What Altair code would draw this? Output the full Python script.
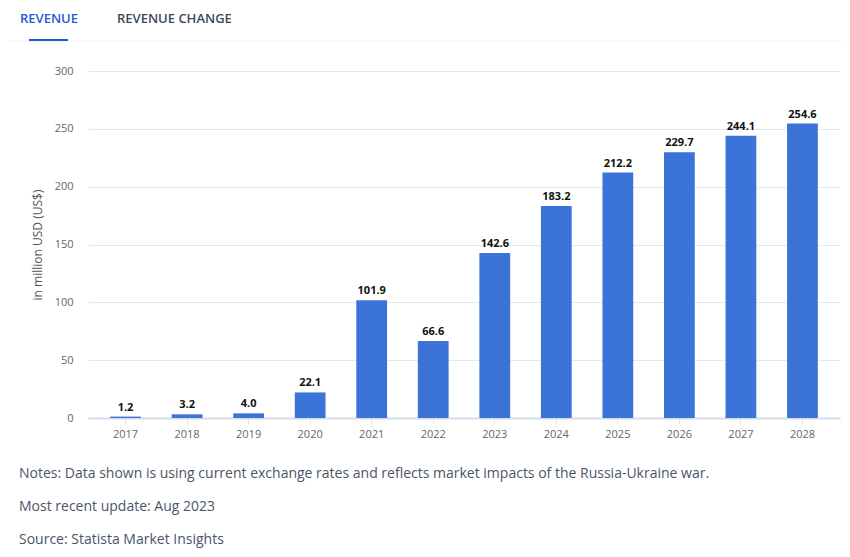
import altair as alt
import pandas as pd

years = ["2017", "2018", "2019", "2020", "2021", "2022", "2023", "2024", "2025", "2026", "2027", "2028"]
revenue = [1.2, 3.2, 4.0, 22.1, 101.9, 66.6, 142.6, 183.2, 212.2, 229.7, 244.1, 254.6]
y_ticks = [0, 50, 100, 150, 200, 250, 300]
tab_labels = ["REVENUE", "REVENUE CHANGE"]
notes = [
    "Notes: Data shown is using current exchange rates and reflects market impacts of the Russia-Ukraine war.",
    "Most recent update: Aug 2023",
    "Source: Statista Market Insights",
]
y_title = "in million USD (US$)"

df = pd.DataFrame({"year": years, "revenue": revenue})
one = pd.DataFrame({"k": [0]})

FONT = "Open Sans"

x = alt.X("year:N", title=None,
          scale=alt.Scale(paddingInner=0.5, paddingOuter=0.36),
          axis=alt.Axis(labelAngle=0, labelColor="#666666", labelFontSize=11, labelFont=FONT,
                        domainColor="#d5dcea", domainWidth=2, tickColor="#dde3ee", tickSize=6,
                        labelPadding=4, grid=False))
y = alt.Y("revenue:Q", title=y_title,
          scale=alt.Scale(domain=[0, 300], nice=False),
          axis=alt.Axis(values=y_ticks, labelColor="#666666", labelFontSize=11, labelFont=FONT,
                        domain=False, ticks=False, labelPadding=15, gridColor="#e8e8e8",
                        titleColor="#555555", titleFontSize=12, titleFont=FONT,
                        titleFontWeight="normal", titlePadding=10))

base = alt.Chart(df)
bars = base.mark_bar(color="#3c73d8").encode(x=x, y=y)
labels = base.mark_text(dy=-9, fontSize=11, fontWeight="bold", color="#111111", font=FONT).encode(
    x=x, y=y, text=alt.Text("revenue:Q", format=".1f"))

tab1 = alt.Chart(one).mark_text(align="left", baseline="middle", fontSize=13, fontWeight=600,
                                color="#1f5bd6", font=FONT, text=tab_labels[0]).encode(
    x=alt.value(-68), y=alt.value(-52))
tab2 = alt.Chart(one).mark_text(align="left", baseline="middle", fontSize=13, fontWeight=600,
                                color="#3a4a5e", font=FONT, text=tab_labels[1]).encode(
    x=alt.value(29), y=alt.value(-52))
underline = alt.Chart(one).mark_rule(color="#1f5bd6", strokeWidth=2).encode(
    x=alt.value(-59), x2=alt.value(-20), y=alt.value(-31))
sep = alt.Chart(one).mark_rule(color="#eef0f4", strokeWidth=1).encode(
    x=alt.value(-88), x2=alt.value(762), y=alt.value(-30))

note_layers = []
for i, t in enumerate(notes):
    note_layers.append(
        alt.Chart(one).mark_text(align="left", baseline="middle", fontSize=14, fontWeight="normal",
                                 color="#4a5568", font=FONT, text=t).encode(
            x=alt.value(-69), y=alt.value(403 + 33 * i)))

chart = alt.layer(sep, underline, tab1, tab2, bars, labels, *note_layers).properties(
    width=752, height=347,
    background="white",
    autosize=alt.AutoSizeParams(type="none"),
    padding={"left": 80, "top": 63, "right": 2, "bottom": 131},
).configure_view(stroke=None, strokeWidth=0).configure_axisX(grid=False).configure_axisY(domain=False)

chart.save("out.html", embed_options={"renderer": "svg", "actions": False})
